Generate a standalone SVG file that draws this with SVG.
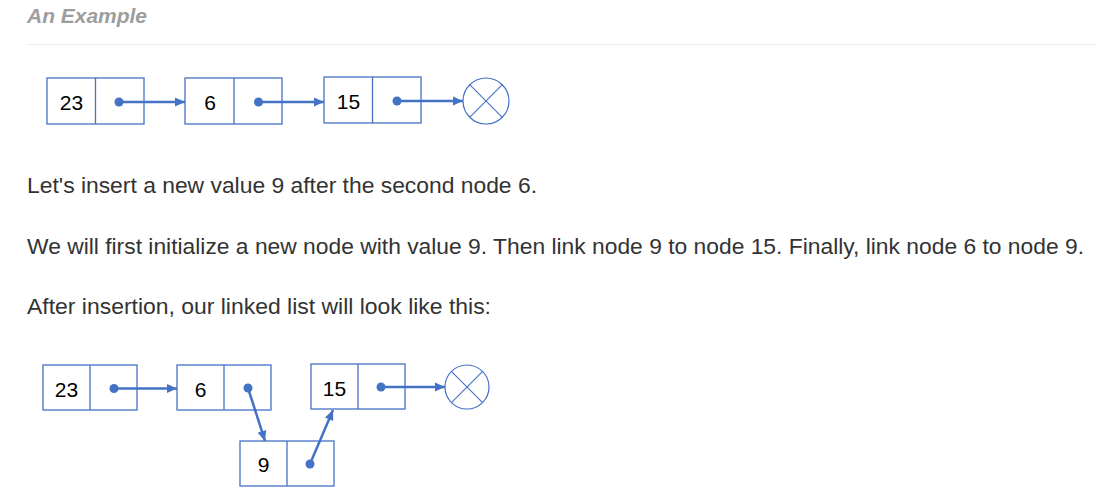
<svg xmlns="http://www.w3.org/2000/svg" width="1096" height="502" viewBox="0 0 1096 502">
  <style>
    .title { font-family: "Liberation Sans", Arial, sans-serif; font-style: italic; font-weight: bold; font-size: 21px; fill: #9d9d9d; }
    .para { font-family: "Liberation Sans", Arial, sans-serif; font-size: 22px; fill: #333333; }
    .cell { fill: #ffffff; stroke: #4472C4; stroke-width: 1.3; }
    .div { stroke: #4472C4; stroke-width: 1.3; }
    .val { font-family: "Liberation Sans", Arial, sans-serif; font-size: 21px; fill: #000000; text-anchor: middle; }
    .link { stroke: #4472C4; stroke-width: 2.5; fill: none; marker-end: url(#arrow); }
    .dot { fill: #4472C4; }
    .nul { fill: #ffffff; stroke: #4472C4; stroke-width: 1.2; }
    .x { stroke: #4472C4; stroke-width: 1.1; }
  </style>
  <defs>
    <marker id="arrow" markerUnits="userSpaceOnUse" markerWidth="12" markerHeight="12" viewBox="0 0 12 12" refX="11" refY="6" orient="auto">
      <path d="M1,1.5 L11,6 L1,10.5 Z" fill="#4472C4"/>
    </marker>
  </defs>
  <rect width="1096" height="502" fill="#ffffff"/>

  <text class="title" x="27" y="23" textLength="120" lengthAdjust="spacingAndGlyphs">An Example</text>
  <line x1="27" y1="44.5" x2="1096" y2="44.5" stroke="#eaeaea" stroke-width="1"/>

  <!-- top list -->
  <g id="t-node-23">
    <rect class="cell" x="47" y="78" width="97" height="46"/>
    <line class="div" x1="95.5" y1="78" x2="95.5" y2="124"/>
    <text class="val" x="71.5" y="110">23</text>
  </g>
  <g id="t-node-6">
    <rect class="cell" x="185" y="78" width="97" height="46"/>
    <line class="div" x1="234" y1="78" x2="234" y2="124"/>
    <text class="val" x="210" y="110">6</text>
  </g>
  <g id="t-node-15">
    <rect class="cell" x="324" y="77" width="97" height="46"/>
    <line class="div" x1="372.5" y1="77" x2="372.5" y2="123"/>
    <text class="val" x="348.5" y="109">15</text>
  </g>
  <g id="t-null">
    <circle class="nul" cx="486" cy="101" r="23"/>
    <line class="x" x1="469.7" y1="84.7" x2="502.3" y2="117.3"/>
    <line class="x" x1="502.3" y1="84.7" x2="469.7" y2="117.3"/>
  </g>

  <text class="para" x="27" y="193" textLength="510" lengthAdjust="spacingAndGlyphs">Let's insert a new value 9 after the second node 6.</text>
  <text class="para" x="27" y="254" textLength="1057" lengthAdjust="spacingAndGlyphs">We will first initialize a new node with value 9. Then link node 9 to node 15. Finally, link node 6 to node 9.</text>
  <text class="para" x="27" y="314" textLength="464" lengthAdjust="spacingAndGlyphs">After insertion, our linked list will look like this:</text>

  <!-- bottom list -->
  <g id="b-node-23">
    <rect class="cell" x="43" y="365" width="94" height="45"/>
    <line class="div" x1="90" y1="365" x2="90" y2="410"/>
    <text class="val" x="66.5" y="396.5">23</text>
  </g>
  <g id="b-node-6">
    <rect class="cell" x="177" y="365" width="94" height="45"/>
    <line class="div" x1="224" y1="365" x2="224" y2="410"/>
    <text class="val" x="200.5" y="396.5">6</text>
  </g>
  <g id="b-node-15">
    <rect class="cell" x="311" y="364" width="94" height="45"/>
    <line class="div" x1="358" y1="364" x2="358" y2="409"/>
    <text class="val" x="334.5" y="395.5">15</text>
  </g>
  <g id="b-node-9">
    <rect class="cell" x="240" y="441" width="94" height="45"/>
    <line class="div" x1="287" y1="441" x2="287" y2="486"/>
    <text class="val" x="263.5" y="472">9</text>
  </g>
  <g id="b-null">
    <circle class="nul" cx="467" cy="387" r="22"/>
    <line class="x" x1="451.4" y1="371.4" x2="482.6" y2="402.6"/>
    <line class="x" x1="482.6" y1="371.4" x2="451.4" y2="402.6"/>
  </g>

  <g id="connectors">
    <circle class="dot" cx="119" cy="102" r="4.5"/>
    <line class="link" x1="119" y1="102" x2="185" y2="102"/>
    <circle class="dot" cx="258.5" cy="102" r="4.5"/>
    <line class="link" x1="258.5" y1="102" x2="324" y2="102"/>
    <circle class="dot" cx="397" cy="101" r="4.5"/>
    <line class="link" x1="397" y1="101" x2="463" y2="101"/>

    <circle class="dot" cx="114" cy="388.5" r="4.5"/>
    <line class="link" x1="114" y1="388.5" x2="177" y2="388.5"/>
    <circle class="dot" cx="248" cy="388" r="4.5"/>
    <line class="link" x1="248" y1="388" x2="265" y2="441"/>
    <circle class="dot" cx="310" cy="464" r="4.5"/>
    <line class="link" x1="310" y1="464" x2="333" y2="410"/>
    <circle class="dot" cx="381" cy="387" r="4.5"/>
    <line class="link" x1="381" y1="387" x2="445" y2="387"/>
  </g>
</svg>
